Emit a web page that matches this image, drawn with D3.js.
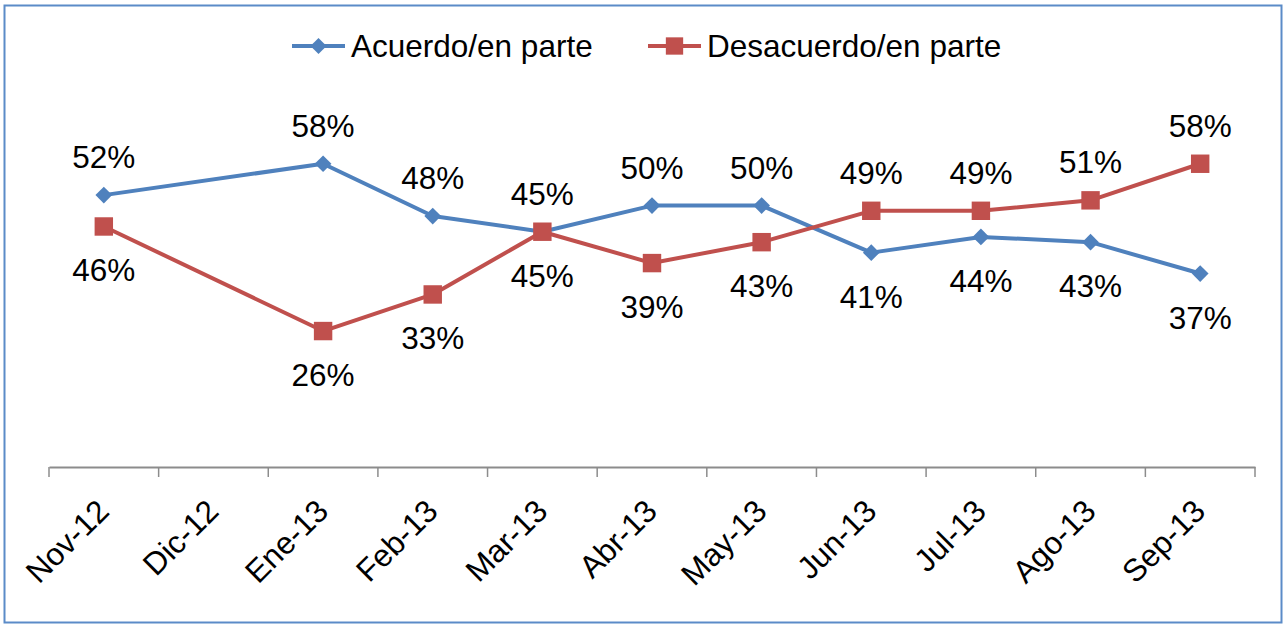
<!DOCTYPE html>
<html>
<head>
<meta charset="utf-8">
<script src="https://cdn.jsdelivr.net/npm/d3@7/dist/d3.min.js"></script>
<style>
  body { margin: 0; background: #fff; }
  svg { display: block; font-family: "Liberation Sans", Arial, sans-serif; }
</style>
</head>
<body>
<div id="chart"></div>
<script>
const months = ['Nov-12', 'Dic-12', 'Ene-13', 'Feb-13', 'Mar-13', 'Abr-13', 'May-13', 'Jun-13', 'Jul-13', 'Ago-13', 'Sep-13'];
// null = no survey that month
const acuerdo = [52, null, 58, 48, 45, 50, 50, 41, 44, 43, 37];
const desacuerdo = [46, null, 26, 33, 45, 39, 43, 49, 49, 51, 58];
// label placement, 'a' above, 'b' below the point
const acuerdoPos = ['a', null, 'a', 'a', 'a', 'a', 'a', 'b', 'b', 'b', 'b'];
const desacuerdoPos = ['b', null, 'b', 'b', 'b', 'b', 'b', 'a', 'a', 'a', 'a'];

const width = 1288, height = 626;
const blue = '#4f81bd', red = '#c0504d';
const fontSize = 31.5;

const svg = d3.select('#chart').append('svg')
  .attr('width', width)
  .attr('height', height);

// chart frame
svg.append('rect')
  .attr('x', 4.5).attr('y', 5.5)
  .attr('width', 1277).attr('height', 617)
  .attr('fill', '#fff')
  .attr('stroke', '#5b8bc8')
  .attr('stroke-width', 2);

const x = d3.scaleBand()
  .domain(months)
  .range([49, 1255])
  .padding(0);

const y = d3.scaleLinear()
  .domain([0, 70])
  .range([467, 101]);

const cx = m => x(m) + x.bandwidth() / 2;

// x axis
const xAxis = svg.append('g')
  .attr('transform', 'translate(0,' + y(0) + ')')
  .call(d3.axisBottom(x).tickSize(0).tickFormat(''));
xAxis.select('.domain').attr('stroke', '#8c8c8c').attr('stroke-width', 2);

// tick marks sit on the band boundaries
svg.append('g').selectAll('line')
  .data(months.concat(['end']))
  .enter().append('line')
  .attr('x1', (d, i) => i < months.length ? x(d) : x.range()[1])
  .attr('x2', (d, i) => i < months.length ? x(d) : x.range()[1])
  .attr('y1', y(0))
  .attr('y2', y(0) + 10)
  .attr('stroke', '#8c8c8c')
  .attr('stroke-width', 1.5);

svg.append('g').selectAll('text')
  .data(months)
  .enter().append('text')
  .attr('transform', d => 'translate(' + (cx(d) + 7) + ',513) rotate(-45)')
  .attr('text-anchor', 'end')
  .attr('font-size', fontSize)
  .attr('fill', '#000')
  .text(d => d);

const series = [
  { name: 'Acuerdo/en parte', values: acuerdo, pos: acuerdoPos, color: blue, marker: 'diamond' },
  { name: 'Desacuerdo/en parte', values: desacuerdo, pos: desacuerdoPos, color: red, marker: 'square' }
];

const line = d3.line()
  .x(d => cx(d.m))
  .y(d => y(d.v));

series.forEach(s => {
  // skip the gap month so the line joins Nov-12 to Ene-13
  const pts = months.map((m, i) => ({ m, v: s.values[i], p: s.pos[i] })).filter(d => d.v != null);

  svg.append('path')
    .datum(pts)
    .attr('fill', 'none')
    .attr('stroke', s.color)
    .attr('stroke-width', 4)
    .attr('stroke-linejoin', 'round')
    .attr('d', line);

  svg.append('g').selectAll('path')
    .data(pts)
    .enter().append('path')
    .attr('transform', d => 'translate(' + cx(d.m) + ',' + y(d.v) + ')' + (s.marker === 'diamond' ? ' rotate(45)' : ''))
    .attr('d', d3.symbol().type(d3.symbolSquare).size(s.marker === 'diamond' ? 140 : 340))
    .attr('fill', s.color);

  svg.append('g').selectAll('text')
    .data(pts)
    .enter().append('text')
    .attr('x', d => cx(d.m))
    .attr('y', d => y(d.v) + (d.p === 'a' ? -27 : 55))
    .attr('text-anchor', 'middle')
    .attr('font-size', fontSize)
    .attr('fill', '#000')
    .text(d => d.v + '%');
});

// legend
const legend = svg.append('g');
const legendX = [292, 648];
series.forEach((s, i) => {
  const g = legend.append('g').attr('transform', 'translate(' + legendX[i] + ',46)');
  g.append('line')
    .attr('x1', 0).attr('x2', 53)
    .attr('stroke', s.color).attr('stroke-width', 4);
  g.append('path')
    .attr('transform', 'translate(26.5,0)' + (s.marker === 'diamond' ? ' rotate(45)' : ''))
    .attr('d', d3.symbol().type(d3.symbolSquare).size(s.marker === 'diamond' ? 130 : 300))
    .attr('fill', s.color);
  g.append('text')
    .attr('x', 59).attr('y', 11)
    .attr('font-size', fontSize)
    .attr('fill', '#000')
    .text(s.name);
});
</script>
</body>
</html>
